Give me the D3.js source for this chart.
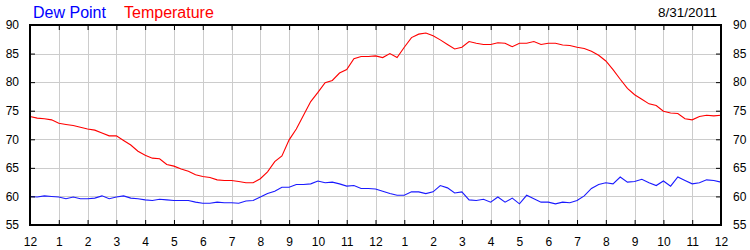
<!DOCTYPE html>
<html>
<head>
<meta charset="utf-8">
<script src="https://cdn.jsdelivr.net/npm/d3@7"></script>
<style>
  body { margin: 0; background: #fff; }
  text { font-family: "Liberation Sans", Arial, sans-serif; }
  .grid line { stroke: #cccccc; stroke-width: 1; }
  .tickLabel { font-size: 12px; fill: #000; }
</style>
</head>
<body>
<div id="chart"></div>
<script>

// hours since midnight, every 15 minutes
var hours = d3.range(0, 97).map(function(i) { return i / 4; });

var hourLabels = ["12","1","2","3","4","5","6","7","8","9","10","11",
                  "12","1","2","3","4","5","6","7","8","9","10","11","12"];

var tempTicks = [55, 60, 65, 70, 75, 80, 85, 90];

var temperature = [
  74.0, 73.7, 73.6, 73.4, 72.8, 72.6, 72.4, 72.1,
  71.8, 71.6, 71.1, 70.6, 70.6, 69.8, 69.0, 67.9,
  67.2, 66.7, 66.6, 65.6, 65.3, 64.8, 64.4, 63.8,
  63.5, 63.3, 62.9, 62.8, 62.8, 62.6, 62.4, 62.4,
  63.1, 64.3, 66.1, 67.1, 69.9, 71.8, 74.2, 76.6,
  78.2, 79.9, 80.3, 81.6, 82.2, 84.1, 84.5, 84.5,
  84.6, 84.3, 85.0, 84.3, 86.1, 87.8, 88.4, 88.6,
  88.1, 87.4, 86.6, 85.8, 86.1, 87.1, 86.8, 86.6,
  86.6, 86.9, 86.8, 86.2, 86.8, 86.8, 87.1, 86.6,
  86.8, 86.8, 86.5, 86.4, 86.1, 85.9, 85.4, 84.7,
  83.7, 82.2, 80.5, 78.9, 77.8, 77.0, 76.2, 75.9,
  74.9, 74.6, 74.5, 73.6, 73.4, 74.0, 74.2, 74.1,
  74.2
];

var dewPoint = [
  60.0, 59.9, 60.1, 60.0, 59.9, 59.6, 59.9, 59.6,
  59.6, 59.7, 60.1, 59.6, 59.9, 60.1, 59.7, 59.6,
  59.4, 59.3, 59.5, 59.4, 59.3, 59.3, 59.3, 59.0,
  58.8, 58.8, 59.0, 58.9, 58.9, 58.8, 59.2, 59.3,
  59.9, 60.5, 60.9, 61.6, 61.6, 62.1, 62.1, 62.2,
  62.7, 62.4, 62.5, 62.2, 61.8, 61.9, 61.4, 61.4,
  61.3, 60.9, 60.5, 60.2, 60.2, 60.8, 60.8, 60.5,
  60.8, 61.9, 61.5, 60.6, 60.8, 59.4, 59.3, 59.5,
  59.0, 59.9, 59.0, 59.7, 58.7, 60.2, 59.6, 59.0,
  59.0, 58.7, 59.0, 58.9, 59.3, 60.1, 61.4, 62.1,
  62.4, 62.2, 63.4, 62.5, 62.6, 63.0, 62.4, 61.9,
  62.7, 61.8, 63.4, 62.8, 62.2, 62.4, 62.9, 62.8,
  62.5
];

var margin = {top: 25, right: 29, bottom: 25, left: 30};
var width = 750;
var height = 250;
var plotW = width - margin.left - margin.right;
var plotH = height - margin.top - margin.bottom;

var svg = d3.select("#chart")
  .append("svg")
  .attr("width", width)
  .attr("height", height);

var g = svg.append("g")
  .attr("transform", "translate(" + margin.left + "," + margin.top + ")");

var xScale = d3.scaleLinear()
  .domain([0, 24])
  .range([0, plotW]);

var yScale = d3.scaleLinear()
  .domain([55, 90])
  .range([plotH, 0]);

// grid
var grid = g.append("g").attr("class", "grid");
grid.selectAll(".vgrid")
  .data(d3.range(1, 24))
  .enter()
  .append("line")
  .attr("x1", function(d) { return Math.round(xScale(d)) + 0.5; })
  .attr("x2", function(d) { return Math.round(xScale(d)) + 0.5; })
  .attr("y1", 0)
  .attr("y2", plotH);
grid.selectAll(".hgrid")
  .data(tempTicks.slice(1, -1))
  .enter()
  .append("line")
  .attr("x1", 0)
  .attr("x2", plotW)
  .attr("y1", function(d) { return Math.round(yScale(d)) + 0.5; })
  .attr("y2", function(d) { return Math.round(yScale(d)) + 0.5; });

// lines
var line = d3.line()
  .x(function(d) { return xScale(d[0]); })
  .y(function(d) { return yScale(d[1]); });

g.append("path")
  .datum(d3.zip(hours, dewPoint))
  .attr("fill", "none")
  .attr("stroke", "#1a1aff")
  .attr("stroke-width", 1.1)
  .attr("d", line);

g.append("path")
  .datum(d3.zip(hours, temperature))
  .attr("fill", "none")
  .attr("stroke", "#ff0000")
  .attr("stroke-width", 1.1)
  .attr("d", line);

// axes, ticks pointing inward
var xBottom = d3.axisBottom(xScale)
  .tickValues(d3.range(0, 25))
  .tickFormat(function(d) { return hourLabels[d]; })
  .tickSizeInner(-5)
  .tickSizeOuter(0)
  .tickPadding(12);

var xTop = d3.axisTop(xScale)
  .tickValues(d3.range(0, 25))
  .tickFormat("")
  .tickSizeInner(-5)
  .tickSizeOuter(0);

var yLeft = d3.axisLeft(yScale)
  .tickValues(tempTicks)
  .tickSizeInner(-5)
  .tickSizeOuter(0)
  .tickPadding(11);

var yRight = d3.axisRight(yScale)
  .tickValues(tempTicks)
  .tickSizeInner(-5)
  .tickSizeOuter(0)
  .tickPadding(12);

function styleAxis(sel) {
  sel.select(".domain").remove();
  sel.selectAll("line").attr("stroke", "#000").attr("stroke-width", 1);
  sel.selectAll("text")
    .attr("class", "tickLabel")
    .style("font-family", "'Liberation Sans', Arial, sans-serif")
    .style("font-size", "12px")
    .attr("fill", "#000");
}

g.append("g")
  .attr("transform", "translate(0," + plotH + ")")
  .call(xBottom)
  .call(styleAxis);

g.append("g")
  .call(xTop)
  .call(styleAxis);

g.append("g")
  .call(yLeft)
  .call(styleAxis);

g.append("g")
  .attr("transform", "translate(" + plotW + ",0)")
  .call(yRight)
  .call(styleAxis);

// frame
g.append("rect")
  .attr("x", 0)
  .attr("y", 0)
  .attr("width", plotW)
  .attr("height", plotH)
  .attr("fill", "none")
  .attr("stroke", "#000")
  .attr("stroke-width", 2);

// legend and date
svg.append("text")
  .attr("x", 33)
  .attr("y", 18)
  .attr("fill", "#0000ff")
  .style("font-size", "16px")
  .text("Dew Point");

svg.append("text")
  .attr("x", 124)
  .attr("y", 18)
  .attr("fill", "#ff0000")
  .style("font-size", "16px")
  .text("Temperature");

svg.append("text")
  .attr("x", 717)
  .attr("y", 17)
  .attr("fill", "#000")
  .style("text-anchor", "end")
  .style("font-size", "13.5px")
  .text("8/31/2011");

</script>
</body>
</html>
